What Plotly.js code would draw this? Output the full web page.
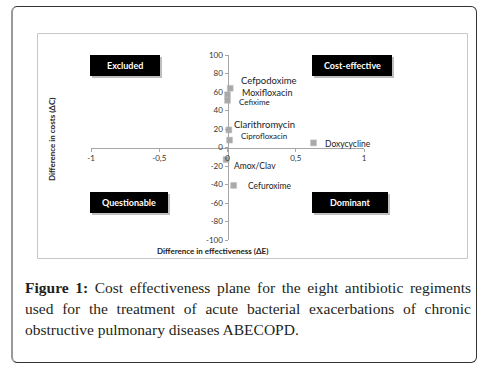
<!DOCTYPE html>
<html>
<head>
<meta charset="utf-8">
<script src="https://cdn.plot.ly/plotly-3.0.1.min.js"></script>
<style>
  html, body { margin:0; padding:0; background:#fff; }
  #wrap { position:relative; width:487px; height:368px; overflow:hidden; }
  #frame { position:absolute; left:11px; top:6px; width:466px; height:357px;
           border:1px solid #333; border-left:2px solid #999; border-radius:6px; box-sizing:border-box; }
  #chart { position:absolute; left:0; top:0; width:487px; height:368px; }
  #caption { position:absolute; left:25px; top:277px; width:446px;
             font-family:"Liberation Serif","DejaVu Serif",serif; font-size:15.5px; line-height:21px; color:#231f20; }
  #caption div { text-align:justify; text-align-last:justify; white-space:nowrap; }
  #caption div.last { text-align-last:left; }
  #caption b { font-weight:600; }
</style>
</head>
<body>
<div id="wrap">
  <div id="frame"></div>
  <div id="chart"></div>
  <div id="caption">
    <div><b>Figure 1:</b> Cost effectiveness plane for the eight antibiotic regiments</div>
    <div>used for the treatment of acute bacterial exacerbations of chronic</div>
    <div class="last">obstructive pulmonary diseases ABECOPD.</div>
  </div>
</div>
<script>
// ---- data ----
var drugs = ['Cefpodoxime','Moxifloxacin','Cefixime','Clarithromycin','Ciprofloxacin','Doxycycline','Amox/Clav','Cefuroxime'];
var deltaE = [0.02, 0.0, 0.0, 0.01, 0.015, 0.63, -0.01, 0.045];
var deltaC = [64, 57, 51, 19, 8, 5, -13, -41];
var xTickVals = [-1, -0.5, 0, 0.5, 1];
var xTickText = ['-1', '-0,5', '0', '0,5', '1'];
var yTickVals = [100, 80, 60, 40, 20, 0, -20, -40, -60, -80, -100];
var yTickText = ['100', '80', '60', '40', '20', '0', '-20', '-40', '-60', '-80', '-100'];
var quadrants = ['Excluded', 'Cost-effective', 'Questionable', 'Dominant'];

// ---- layout helpers (pixel -> paper) ----
var W = 487, H = 368, L = 91, R = 364, T = 55, B = 240;
function fx(px) { return (px - L) / (R - L); }
function fy(py) { return (B - py) / (B - T); }

// label styles / offsets (pixels)
var labelSize = [9.5, 9, 8, 9.5, 8, 8.5, 8.5, 8.5];
var labelDx = [9, 12, 9, 3, 9, 9, 6, 12];
var labelDy = [8, 2, -1.5, 5, 4, -1, -6, -1];

// quadrant boxes in pixels [x0, x1, y0, y1]
var boxes = [[90, 160, 55, 76], [312, 392, 55, 76], [90, 168, 192, 213], [312, 388, 192, 213]];

var font = 'Lato, "Open Sans", "DejaVu Sans", sans-serif';

var trace = {
  x: deltaE, y: deltaC, type: 'scatter', mode: 'markers',
  marker: { symbol: 'square', size: 6, color: '#a9a9a9', line: { color: '#c4c4c4', width: 0.5 } },
  hoverinfo: 'skip', showlegend: false, cliponaxis: false
};

var shapes = [];
var annotations = [];

// inner chart frame
shapes.push({ type: 'rect', xref: 'paper', yref: 'paper', layer: 'below',
  x0: fx(37.5), x1: fx(467.5), y0: fy(258.5), y1: fy(33.5), line: { color: '#c8c8c8', width: 1 } });

boxes.forEach(function (b, i) {
  shapes.push({ type: 'rect', xref: 'paper', yref: 'paper', layer: 'below',
    x0: fx(b[0] + 2), x1: fx(b[1] + 2), y0: fy(b[3] + 2), y1: fy(b[2] + 2),
    line: { width: 0 }, fillcolor: 'rgba(0,0,0,0.25)' });
  shapes.push({ type: 'rect', xref: 'paper', yref: 'paper', layer: 'below',
    x0: fx(b[0]), x1: fx(b[1]), y0: fy(b[3]), y1: fy(b[2]),
    line: { width: 0 }, fillcolor: '#000' });
  annotations.push({ xref: 'paper', yref: 'paper', x: fx((b[0] + b[1]) / 2), y: fy((b[2] + b[3]) / 2),
    text: '<b>' + quadrants[i] + '</b>', showarrow: false, xanchor: 'center', yanchor: 'middle',
    font: { family: font, size: 9, color: '#fff' } });
});

drugs.forEach(function (d, i) {
  annotations.push({ x: deltaE[i], y: deltaC[i], xref: 'x', yref: 'y', text: d, showarrow: false,
    xanchor: 'left', yanchor: 'middle', xshift: labelDx[i], yshift: labelDy[i],
    font: { family: font, size: labelSize[i], color: '#1a1a1a' } });
});

annotations.push({ xref: 'paper', yref: 'paper', x: fx(52), y: fy(140), textangle: -90,
  text: '<b>Difference in costs (ΔC)</b>', showarrow: false, xanchor: 'center', yanchor: 'middle',
  font: { family: font, size: 8, color: '#222' } });
annotations.push({ xref: 'paper', yref: 'paper', x: fx(212), y: fy(251),
  text: '<b>Difference in effectiveness (ΔE)</b>', showarrow: false, xanchor: 'center', yanchor: 'middle',
  font: { family: font, size: 8, color: '#222' } });

var layout = {
  width: W, height: H,
  margin: { l: L, r: W - R, t: T, b: H - B, pad: 0 },
  paper_bgcolor: 'rgba(0,0,0,0)', plot_bgcolor: 'rgba(0,0,0,0)',
  showlegend: false,
  xaxis: { range: [-1, 1], anchor: 'free', position: 0.5, showline: true, linecolor: '#a6a6a6', linewidth: 1,
    ticks: 'outside', ticklen: 3, tickcolor: '#a6a6a6', showgrid: false, zeroline: false,
    tickvals: xTickVals, ticktext: xTickText, automargin: false, fixedrange: true,
    tickfont: { family: font, size: 8, color: '#333' } },
  yaxis: { range: [-100, 100], anchor: 'free', position: 0.5, showline: true, linecolor: '#a6a6a6', linewidth: 1,
    ticks: 'outside', ticklen: 3, tickcolor: '#a6a6a6', showgrid: false, zeroline: false,
    tickvals: yTickVals, ticktext: yTickText, automargin: false, fixedrange: true,
    tickfont: { family: font, size: 8, color: '#333' } },
  shapes: shapes,
  annotations: annotations
};

Plotly.newPlot('chart', [trace], layout, { staticPlot: true, displayModeBar: false });
</script>
</body>
</html>
